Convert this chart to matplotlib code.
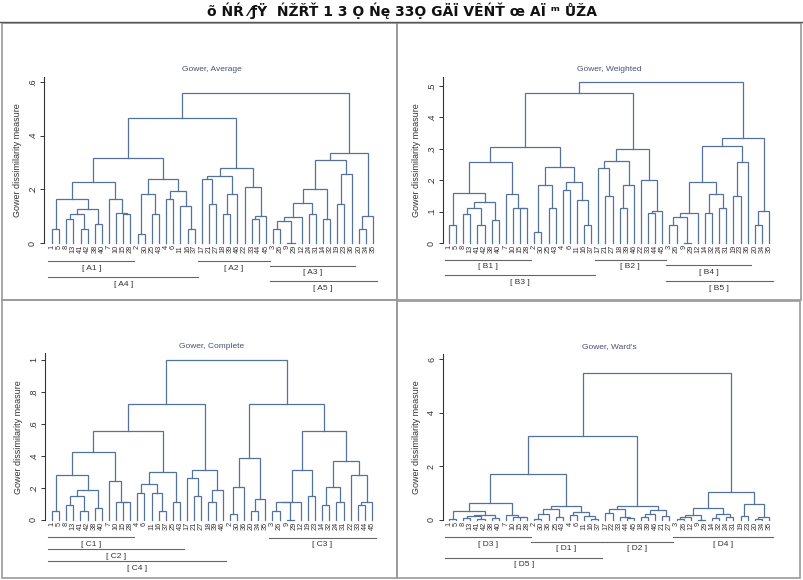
import matplotlib
matplotlib.use('Agg')
import matplotlib.pyplot as plt
from matplotlib.transforms import blended_transform_factory
from matplotlib.patches import Rectangle
from matplotlib.lines import Line2D

plt.rcParams['font.family'] = ['Liberation Sans', 'DejaVu Sans']

# =============================================================================
# DATA  (leaf order, merges as (child, child, height); negative = k-th merge)
# =============================================================================

main_title = "õ ŃŔ ⁄ƒŸ  ŃŽŘŤ 1 3 Ọ Ńę 33Ọ GÄÏ VÊŃŤ œ AÏ ᵐ ŮŽA"

avg_order = [1, 5, 8, 13, 41, 42, 38, 40, 7, 10, 15, 28, 2, 30, 25, 43, 4, 6, 11, 16, 37,
             17, 21, 27, 18, 39, 46, 22, 33, 44, 45, 3, 26, 9, 29, 12, 24, 31, 14, 32,
             19, 23, 36, 20, 34, 35]
avg_merges = [(1, 5, .053), (8, 13, .091), (41, 42, .053), (38, 40, .072), (-2, -3, .109),
              (-5, -4, .128), (-1, -6, .165), (15, 28, .109), (10, -8, .110), (7, -9, .165),
              (-7, -10, .227), (2, 30, .035), (25, 43, .109), (-12, -13, .184), (4, 6, .165),
              (16, 37, .053), (11, -16, .138), (-15, -17, .194), (-14, -18, .237),
              (-11, -19, .318), (21, 27, .147), (17, -21, .240), (18, 39, .109), (-23, 46, .184),
              (-22, -24, .248), (33, 44, .091), (-26, 45, .100), (22, -27, .209),
              (-25, -28, .281), (-20, -29, .467), (3, 26, .053), (9, 29, 0.0), (-31, -32, .082),
              (-33, 12, .097), (24, 31, .109), (-34, -35, .150), (14, 32, .091),
              (-36, -37, .202), (19, 23, .147), (-39, 36, .258), (-38, -40, .311),
              (20, 34, .053), (-42, 35, .100), (-41, -43, .335), (-30, -44, .560)]
avg_ticks = [0, .2, .4, .6]
avg_groups = [("[ A1 ]", 1, 28), ("[ A2 ]", 17, 45), ("[ A3 ]", 3, 36),
              ("[ A4 ]", 1, 37), ("[ A5 ]", 3, 35)]

wtd_order = [1, 5, 8, 13, 41, 42, 38, 40, 7, 10, 15, 28, 2, 30, 25, 43, 4, 6, 11, 16, 37,
             17, 21, 27, 18, 39, 46, 22, 33, 44, 45, 3, 26, 9, 29, 12, 14, 32, 24, 31,
             19, 23, 36, 20, 34, 35]
wtd_merges = [(1, 5, .056), (8, 13, .091), (41, 42, .056), (38, 40, .074), (-2, -3, .110),
              (-5, -4, .129), (-1, -6, .160), (15, 28, .112), (10, -8, .112), (7, -9, .157),
              (-7, -10, .259), (2, 30, .035), (25, 43, .112), (-12, -13, .186), (4, 6, .168),
              (16, 37, .056), (11, -16, .138), (-15, -17, .195), (-14, -18, .243),
              (-11, -19, .306), (21, 27, .149), (17, -21, .240), (18, 39, .112), (-23, 46, .186),
              (-22, -24, .262), (33, 44, .094), (-26, 45, .101), (22, -27, .200),
              (-25, -28, .300), (-20, -29, .477), (3, 26, .056), (9, 29, 0.0), (-31, -32, .083),
              (-33, 12, .096), (14, 32, .094), (24, 31, .112), (-35, -36, .157),
              (-34, -37, .195), (19, 23, .149), (-39, 36, .259), (-38, -40, .310),
              (20, 34, .056), (-42, 35, .101), (-41, -43, .336), (-30, -44, .512)]
wtd_ticks = [0, .1, .2, .3, .4, .5]
wtd_groups = [("[ B1 ]", 1, 28), ("[ B2 ]", 17, 45), ("[ B3 ]", 1, 37),
              ("[ B4 ]", 3, 36), ("[ B5 ]", 3, 35)]

cmp_order = [1, 5, 8, 13, 41, 42, 38, 40, 7, 10, 15, 28, 4, 6, 11, 16, 37, 25, 43,
             17, 21, 27, 18, 39, 46, 2, 30, 36, 20, 34, 35, 3, 26, 9, 29, 12, 19, 23,
             14, 32, 24, 31, 22, 33, 44, 45]
cmp_merges = [(1, 5, .054), (8, 13, .091), (41, 42, .054), (38, 40, .073), (-2, -3, .148),
              (-5, -4, .185), (-1, -6, .279), (15, 28, .110), (10, -8, .110), (7, -9, .241),
              (-7, -10, .426), (4, 6, .168), (16, 37, .054), (11, -13, .168), (-12, -14, .222),
              (25, 43, .110), (-15, -16, .297), (-11, -17, .555), (21, 27, .148),
              (17, -19, .260), (18, 39, .110), (-21, 46, .185), (-20, -22, .314),
              (-18, -23, .724), (2, 30, .037), (-25, 36, .204), (20, 34, .054), (-27, 35, .129),
              (-26, -28, .390), (3, 26, .054), (9, 29, 0.0), (-30, -31, .110), (-32, 12, .110),
              (19, 23, .148), (-33, -34, .314), (14, 32, .091), (24, 31, .110),
              (-36, -37, .204), (33, 44, .091), (-39, 45, .110), (22, -40, .279),
              (-38, -41, .368), (-35, -42, .555), (-29, -43, .724), (-24, -44, 1.0)]
cmp_ticks = [0, .2, .4, .6, .8, 1]
cmp_groups = [("[ C1 ]", 1, 28), ("[ C2 ]", 1, 43), ("[ C4 ]", 1, 46), ("[ C3 ]", 3, 45)]

wrd_order = [1, 5, 8, 13, 41, 42, 38, 40, 7, 10, 15, 28, 2, 30, 36, 25, 43, 4, 6, 11, 16, 37,
             17, 22, 33, 44, 45, 18, 39, 46, 21, 27, 3, 26, 12, 9, 29, 14, 32, 24, 31,
             19, 23, 20, 34, 35]
wrd_merges = [(1, 5, .04), (8, 13, .08), (41, 42, .05), (38, 40, .07), (-2, -3, .16),
              (-5, -4, .20), (-1, -6, .32), (15, 28, .10), (10, -8, .12), (7, -9, .20),
              (-7, -10, .62), (2, 30, .04), (-12, 36, .22), (25, 43, .11), (-13, -14, .40),
              (4, 6, .20), (16, 37, .05), (11, -17, .14), (-16, -18, .28), (-15, -19, .51),
              (-11, -20, 1.71), (17, 22, .27), (44, 45, .08), (33, -23, .10), (-22, -24, .40),
              (18, 39, .10), (-26, 46, .21), (21, 27, .14), (-27, -28, .36), (-25, -29, .52),
              (-21, -30, 3.12), (3, 26, .04), (-32, 12, .10), (9, 29, 0.0), (-33, -34, .17),
              (14, 32, .07), (24, 31, .10), (-36, -37, .22), (-35, -38, .44), (19, 23, .14),
              (20, 34, .04), (-41, 35, .10), (-40, -42, .61), (-39, -43, 1.03),
              (-31, -44, 5.47)]
wrd_ticks = [0, 2, 4, 6]
wrd_groups = [("[ D3 ]", 1, 28), ("[ D1 ]", 2, 37), ("[ D2 ]", 17, 27),
              ("[ D4 ]", 3, 35), ("[ D5 ]", 1, 37)]

# =============================================================================
# LAYOUT (pixels on the 804x580 canvas)
# =============================================================================

W, H = 804, 580
LINE_C  = '#55739a'
TEXT_C  = '#333333'
TITLE_C = '#48507a'
GROUP_C = '#666666'

# axis-left, leaf0, leafN, axis-right, y of zero, y of top, top value
PANELS = [
    dict(title="Gower, Average", order=avg_order, merges=avg_merges, ticks=avg_ticks,
         groups=avg_groups, box=(44, 52, 373, 380, 243, 76.7, 0.62),
         offs=[18, 18, 23, 34, 38]),
    dict(title="Gower, Weighted", order=wtd_order, merges=wtd_merges, ticks=wtd_ticks,
         groups=wtd_groups, box=(443, 449, 769, 776, 243, 76.6, 0.53),
         offs=[17, 17, 32, 22, 38]),
    dict(title="Gower, Complete", order=cmp_order, merges=cmp_merges, ticks=cmp_ticks,
         groups=cmp_groups, box=(45, 52, 372, 379, 520, 353.4, 1.04),
         offs=[17, 29, 41, 18]),
    dict(title="Gower, Ward's", order=wrd_order, merges=wrd_merges, ticks=wrd_ticks,
         groups=wrd_groups, box=(443, 449, 769, 776, 520, 353.8, 6.2),
         offs=[17, 22, 22, 17, 38]),
]

FRAMES = [(2, 23, 397, 300), (397, 23, 801, 300), (2, 300, 397, 578), (397, 301, 800, 578)]


def fy(py):
    return 1 - py / H


def fmt_tick(v):
    if v == 0:
        return "0"
    s = f"{v:g}"
    return s[1:] if s.startswith("0.") else s


def draw_tree(ax, order, merges):
    pos = {lab: i for i, lab in enumerate(order)}
    nodes = []

    def get(ref):
        return nodes[-ref - 1] if ref < 0 else (pos[ref], 0.0)

    for a, b, h in merges:
        xa, ha = get(a)
        xb, hb = get(b)
        ax.plot([xa, xa, xb, xb], [ha, h, h, hb], color=LINE_C, lw=0.9,
                clip_on=False, solid_joinstyle='miter')
        nodes.append(((xa + xb) / 2, h))


fig = plt.figure(figsize=(W / 100, H / 100), dpi=100)

for p in PANELS:
    left, l0, ln, right, y0, ytop_px, ytop = p['box']
    n = len(p['order'])
    sp = (ln - l0) / (n - 1)
    ax = fig.add_axes([left / W, fy(y0), (right - left) / W, (y0 - ytop_px) / H])
    ax.set_xlim((left - l0) / sp, (right - l0) / sp)
    ax.set_ylim(0, ytop)
    draw_tree(ax, p['order'], p['merges'])

    for s in ('top', 'right', 'bottom'):
        ax.spines[s].set_visible(False)
    ax.spines['left'].set_color('#333333')
    ax.spines['left'].set_linewidth(0.8)

    ax.set_yticks(p['ticks'])
    ax.set_yticklabels([fmt_tick(v) for v in p['ticks']])
    ax.tick_params(axis='y', length=3, width=0.7, color='#333333', labelsize=6.5,
                   labelcolor=TEXT_C, pad=2, labelrotation=90)
    for lab in ax.get_yticklabels():
        lab.set_va('center')
    ax.set_xticks(range(n))
    ax.set_xticklabels([str(v) for v in p['order']], rotation=90, fontsize=5.3,
                       color=TEXT_C)
    ax.tick_params(axis='x', length=0, pad=1.5)
    ax.set_ylabel("Gower dissimilarity measure", fontsize=6.5, color=TEXT_C, labelpad=4)
    ax.set_title(p['title'], fontsize=6, color=TITLE_C, pad=4)

    tr = blended_transform_factory(ax.transData, fig.transFigure)
    pos = {lab: i for i, lab in enumerate(p['order'])}
    for (name, first, last), off in zip(p['groups'], p['offs']):
        x0, x1 = pos[first] - 0.5, pos[last] + 0.5
        ax.plot([x0, x1], [fy(y0 + off)] * 2, color=GROUP_C, lw=0.8,
                transform=tr, clip_on=False)
        ax.text((x0 + x1) / 2, fy(y0 + off + 7), name, transform=tr, ha='center',
                va='center', fontsize=6, color=TEXT_C)

# frames and header
for x0, y0, x1, y1 in FRAMES:
    fig.add_artist(Rectangle((x0 / W, fy(y1)), (x1 - x0) / W, (y1 - y0) / H,
                             transform=fig.transFigure, fill=False,
                             edgecolor='#9a9a9a', lw=1.2))
fig.add_artist(Line2D([0, 1], [fy(22)] * 2, transform=fig.transFigure,
                      color='#555555', lw=1.0))
fig.text(0.5, fy(11), main_title, ha='center', va='center', fontsize=10,
         fontweight='bold', family=['DejaVu Sans'], color='#111111')

fig.savefig("out.png", dpi=100, facecolor='white')
